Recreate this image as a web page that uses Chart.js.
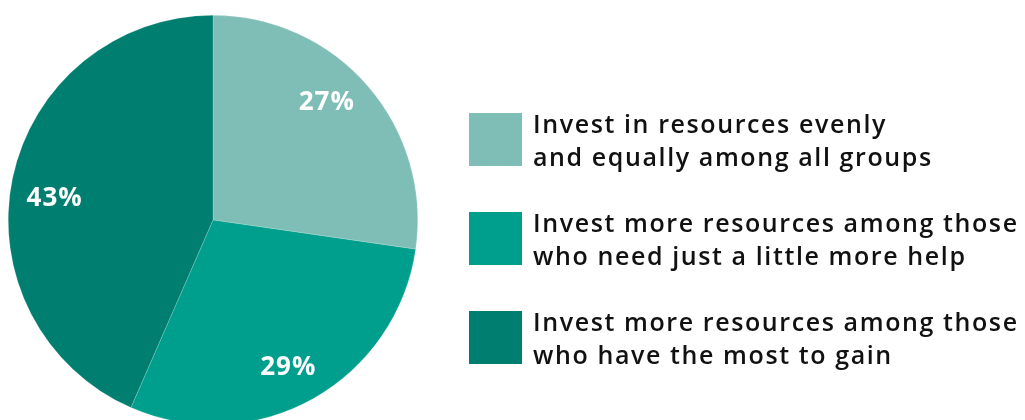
<!DOCTYPE html>
<html>
<head>
<meta charset="utf-8">
<script src="https://cdn.jsdelivr.net/npm/chart.js@4/dist/chart.umd.min.js"></script>
<style>
  html, body { margin: 0; padding: 0; background: #ffffff; overflow: hidden; }
  #wrap { width: 1025px; height: 430px; }
</style>
</head>
<body>
<div id="wrap"><canvas id="pie" width="1025" height="430"></canvas></div>
<script>
// Survey answers: how resources should be invested
const categories = [
  ['Invest in resources evenly', 'and equally among all groups'],
  ['Invest more resources among those', 'who need just a little more help'],
  ['Invest more resources among those', 'who have the most to gain']
];
const shares = [27, 29, 43];
const shareLabels = ['27%', '29%', '43%'];
const sliceColors = ['#7fbeb6', '#009f8d', '#007e70'];

// Percentage labels inside each slice, placed by angle (deg, clockwise from top) and radius fraction
const pctLabelPlugin = {
  id: 'pctLabels',
  afterDatasetsDraw(chart, args, opts) {
    const ctx = chart.ctx;
    const meta = chart.getDatasetMeta(0);
    ctx.save();
    ctx.fillStyle = '#ffffff';
    ctx.font = opts.font;
    ctx.letterSpacing = opts.letterSpacing;
    ctx.textAlign = 'center';
    ctx.textBaseline = 'middle';
    meta.data.forEach((arc, i) => {
      const a = (opts.anchors[i].angle - 90) * Math.PI / 180;
      const r = arc.outerRadius * opts.anchors[i].r;
      ctx.fillText(shareLabels[i], arc.x + Math.cos(a) * r, arc.y + Math.sin(a) * r);
    });
    ctx.restore();
  }
};

// Legend block on the right: square swatch with two-line caption
const sideLegendPlugin = {
  id: 'sideLegend',
  afterDraw(chart, args, opts) {
    const ctx = chart.ctx;
    ctx.save();
    ctx.font = opts.font;
    ctx.letterSpacing = opts.letterSpacing;
    ctx.textAlign = 'left';
    ctx.textBaseline = 'alphabetic';
    categories.forEach((lines, i) => {
      const top = opts.top + i * opts.step;
      ctx.fillStyle = sliceColors[i];
      ctx.fillRect(opts.x, top, opts.box, opts.box);
      ctx.fillStyle = '#111111';
      lines.forEach((ln, j) => {
        ctx.fillText(ln, opts.textX, top + opts.firstBaseline + j * opts.lineGap);
      });
    });
    ctx.restore();
  }
};

new Chart(document.getElementById('pie'), {
  type: 'pie',
  data: {
    labels: categories.map(c => c.join(' ')),
    datasets: [{
      data: shares,
      backgroundColor: sliceColors,
      borderColor: 'rgba(255,255,255,0.35)',
      borderWidth: 0.5
    }]
  },
  options: {
    responsive: false,
    animation: false,
    layout: { padding: { left: 8, top: 15, right: 607, bottom: 5 } },
    plugins: {
      legend: { display: false },
      tooltip: { enabled: false },
      pctLabels: {
        font: '700 26px "Open Sans", sans-serif',
        letterSpacing: '1px',
        anchors: [{ angle: 44, r: 0.80 }, { angle: 153, r: 0.81 }, { angle: 277.6, r: 0.78 }]
      },
      sideLegend: {
        font: '600 25px "Open Sans", sans-serif',
        letterSpacing: '1.6px',
        x: 469, top: 113, step: 99, box: 53,
        textX: 533, firstBaseline: 20, lineGap: 33
      }
    }
  },
  plugins: [pctLabelPlugin, sideLegendPlugin]
});
</script>
</body>
</html>
